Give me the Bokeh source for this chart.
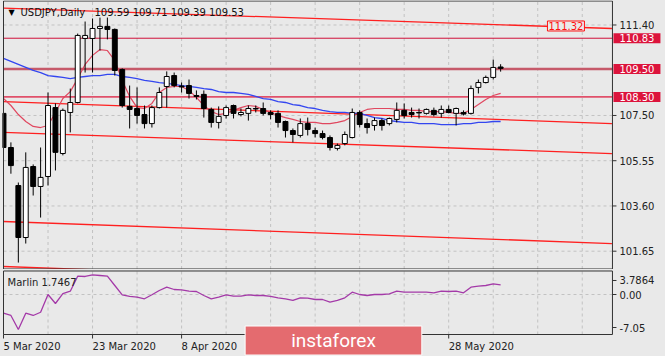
from bokeh.plotting import figure
from bokeh.layouts import column
from bokeh.models import Range1d, Label, ColumnDataSource
from bokeh.core.properties import value
from bokeh.embed import file_html
from bokeh.resources import INLINE

# ---------------- data ----------------
bar_open = [107.59, 106.12, 104.48, 102.24, 105.30, 104.44, 104.87, 107.84, 105.86, 107.63,
            108.06, 110.82, 110.82, 111.25, 111.34, 111.21, 109.48, 107.89, 107.80, 107.54,
            107.15, 107.84, 108.75, 109.22, 108.77, 108.79, 108.36, 108.41, 107.76, 107.20,
            107.50, 107.93, 107.54, 107.59, 107.80, 107.80, 107.63, 107.59, 107.24, 106.85,
            106.64, 107.15, 106.85, 106.72, 106.55, 106.08, 106.29, 106.55, 107.63, 107.15,
            107.07, 107.28, 107.15, 107.33, 107.72, 107.63, 107.63, 107.59, 107.72, 107.59,
            107.76, 107.59, 107.63, 107.59, 108.71, 108.92, 109.14, 109.59]
bar_close = [106.12, 105.34, 102.24, 105.26, 104.44, 104.83, 107.93, 105.91, 107.72, 108.06,
             110.95, 110.95, 111.25, 111.34, 111.21, 109.44, 107.93, 107.76, 107.50, 107.15,
             107.84, 108.49, 109.18, 108.79, 108.73, 108.45, 108.32, 107.80, 107.20, 107.46,
             107.84, 107.59, 107.63, 107.80, 107.78, 107.59, 107.54, 107.20, 106.85, 106.68,
             107.15, 106.90, 106.72, 106.55, 106.12, 106.21, 106.68, 107.63, 107.11, 106.98,
             107.28, 107.07, 107.37, 107.72, 107.50, 107.54, 107.61, 107.76, 107.54, 107.76,
             107.63, 107.80, 107.56, 108.66, 108.92, 109.14, 109.57, 109.53]
bar_high = [107.93, 106.34, 104.61, 105.91, 105.39, 106.12, 108.49, 108.02, 107.80, 108.66,
            111.03, 111.55, 111.68, 111.72, 111.72, 111.25, 109.53, 108.79, 108.71, 107.93,
            107.93, 108.71, 109.40, 109.35, 108.92, 109.05, 108.58, 108.58, 107.84, 107.89,
            107.93, 107.97, 107.80, 107.93, 107.93, 108.06, 107.72, 107.72, 107.28, 106.94,
            107.37, 107.41, 106.98, 106.85, 106.64, 106.29, 106.81, 107.80, 107.72, 107.37,
            107.41, 107.37, 107.41, 108.06, 108.02, 107.84, 107.80, 107.80, 107.84, 107.93,
            107.93, 107.84, 107.72, 108.79, 109.05, 109.22, 109.91, 109.71]
bar_low = [105.90, 104.99, 101.16, 101.98, 104.05, 103.10, 104.48, 105.13, 105.78, 106.77,
           108.02, 109.35, 109.35, 110.30, 110.78, 109.22, 107.84, 106.94, 107.15, 106.94,
           106.98, 107.80, 107.84, 108.71, 108.49, 108.23, 108.19, 107.41, 106.98, 106.94,
           107.37, 107.37, 107.46, 107.28, 107.63, 107.50, 107.33, 106.98, 106.55, 106.34,
           106.55, 106.64, 106.55, 106.47, 105.99, 105.99, 106.21, 106.51, 106.98, 106.72,
           106.85, 106.85, 107.07, 107.20, 107.37, 107.41, 107.37, 107.54, 107.46, 107.41,
           107.59, 107.07, 107.50, 107.54, 108.45, 108.88, 109.05, 109.39]

ma_fast = [108.23, 107.93, 107.54, 107.24, 107.03, 106.98, 107.07, 107.63, 108.23, 108.53,
           109.09, 109.70, 110.09, 110.34, 110.30, 109.87, 109.01, 108.32, 107.84, 107.80,
           108.02, 108.49, 108.71, 108.75, 108.75, 108.58, 108.28, 107.93, 107.67, 107.54,
           107.59, 107.72, 107.84, 107.93, 107.89, 107.76, 107.63, 107.50, 107.41, 107.33,
           107.24, 107.20, 107.20, 107.15, 107.15, 107.20, 107.28, 107.46, 107.63, 107.76,
           107.80, 107.80, 107.80, 107.76, 107.76, 107.72, 107.72, 107.67, 107.67, 107.67,
           107.63, 107.59, 107.59, 107.76, 107.97, 108.19, 108.36, 108.45]
ma_slow = [109.96, 109.83, 109.70, 109.57, 109.44, 109.35, 109.22, 109.18, 109.14, 109.09,
           109.14, 109.18, 109.22, 109.22, 109.27, 109.27, 109.18, 109.14, 109.09, 109.01,
           108.97, 108.92, 108.88, 108.84, 108.79, 108.75, 108.71, 108.66, 108.62, 108.53,
           108.49, 108.49, 108.45, 108.41, 108.32, 108.23, 108.19, 108.10, 108.06, 107.97,
           107.93, 107.84, 107.80, 107.72, 107.67, 107.63, 107.63, 107.59, 107.59, 107.50,
           107.41, 107.37, 107.28, 107.24, 107.20, 107.20, 107.15, 107.15, 107.15, 107.11,
           107.11, 107.11, 107.15, 107.15, 107.20, 107.20, 107.24, 107.24]
marlin = [-3.22, -3.61, -6.02, -3.22, -3.61, -3.05, 0.00, -1.55, 0.17, 0.57,
          3.15, 3.10, 3.39, 3.27, 3.15, 1.55, -0.05, -0.34, -0.46, -0.74,
          -0.05, 0.69, 1.26, 0.86, 0.81, 0.57, 0.52, -0.17, -0.74, -0.46,
          -0.05, -0.29, -0.29, -0.05, -0.17, -0.17, -0.34, -0.57, -0.74, -1.03,
          -0.57, -0.64, -0.86, -0.86, -1.33, -1.03, -0.57, 0.40, 0.00, -0.17,
          0.00, 0.00, 0.12, 0.57, 0.40, 0.40, 0.40, 0.40, 0.29, 0.57,
          0.52, 0.57, 0.29, 1.26, 1.43, 1.55, 1.84, 1.67]

channel_x = [0, 82]
channel_a = [112.13, 111.25]
channel_b = [108.10, 107.15]
channel_c = [106.77, 105.86]
channel_d = [102.93, 101.98]
channel_e = [100.99, 100.04]

level_prices = [110.83, 109.50, 108.30]
level_labels = ["110.83", "109.50", "108.30"]
level_colors = ["#d0103a", "#c65a6a", "#e0506a"]
level_widths = [1, 2.5, 1.8]

price_ticks = [111.40, 107.50, 105.55, 103.60, 101.65]
price_tick_labels = ["111.40", "107.50", "105.55", "103.60", "101.65"]
date_ticks = [0, 12, 24, 60]
date_labels = ["5 Mar 2020", "23 Mar 2020", "8 Apr 2020", "28 May 2020"]
grid_bars = [6, 12, 18, 24, 30, 36, 42, 48, 54, 60, 66, 72, 78]
marlin_ticks = [2.41, 0.0, -5.68]
marlin_tick_labels = ["3.7864", "0.00", "-7.05"]

title_name = "USDJPY,Daily"
title_ohlc = "109.59 109.71 109.39 109.53"
marlin_text = "Marlin 1.7467"
trend_label = "111.32"

# ---------------- geometry / style ----------------
BG = "#e9e9e9"
FONT = "DejaVu Sans"
AXC = "#222222"
BORDER = "#333333"
GRID = "#c2c2c2"
PXB = 1 / 7.42            # bars per pixel
X0 = -PXB                 # frame starts one pixel left of the first bar
CH_END = 82.07            # right edge of the chart area (bars)
X1 = X0 + 663 * PXB       # right edge of the canvas

# main panel price scale (23.2 px per yen)
P_TOP, P_BOT = 112.456, 100.861
B_TOP, B_BOT = 112.434, 100.883
# lower panel scale (5.81 px per unit)
M_TOP, M_BOT = 4.303, -10.671
MB_TOP, MB_BOT = 4.045, -6.885

idx = list(range(len(bar_open)))
up = [c >= o for o, c in zip(bar_open, bar_close)]
src = ColumnDataSource(dict(
    x=idx,
    top=[max(o, c) for o, c in zip(bar_open, bar_close)],
    bottom=[min(o, c) for o, c in zip(bar_open, bar_close)],
    high=bar_high, low=bar_low,
    fill=["white" if u else "black" for u in up],
))


def base_fig(h, yr):
    f = figure(frame_width=663, frame_height=h, min_border_left=2, min_border_right=0,
               min_border_top=0, min_border_bottom=0,
               x_range=Range1d(X0, X1), y_range=Range1d(*yr),
               x_axis_location=None, y_axis_location=None,
               toolbar_location=None, output_backend="svg",
               background_fill_color=BG, border_fill_color=BG)
    f.outline_line_color = None
    f.grid.visible = False
    return f


def txt(f, x, y, t, align="left", size="10px", color=AXC, font=FONT):
    f.text(x=x, y=y, text=t, text_align=align, text_baseline="middle",
           text_font=value(font), text_font_size=size, text_color=color)


# ================= main panel =================
p1 = base_fig(269, (P_BOT, P_TOP))

# grid
p1.segment(x0=0, x1=CH_END, y0=price_ticks, y1=price_ticks,
           line_color=GRID, line_dash="3 3", line_width=1)
p1.segment(x0=grid_bars, x1=grid_bars, y0=B_BOT, y1=B_TOP,
           line_color=GRID, line_dash="3 3", line_width=1)

# horizontal levels
for lv, c, w in zip(level_prices, level_colors, level_widths):
    p1.segment(x0=0, x1=CH_END, y0=lv, y1=lv, line_color=c, line_width=w)

# channel lines
for ys in (channel_a, channel_b, channel_c, channel_d, channel_e):
    p1.line(channel_x, ys, line_color="#ff2020", line_width=1.3)

# moving averages
p1.line(idx, ma_slow, line_color="#3346f0", line_width=1.3)
p1.line(idx, ma_fast, line_color="#e0475f", line_width=1.2)

# candles
p1.segment(x0="x", y0="low", x1="x", y1="high", source=src, line_color="black", line_width=1)
p1.vbar(x="x", top="top", bottom="bottom", width=0.66, source=src,
        fill_color="fill", line_color="black", line_width=1)

# frame
p1.quad(left=0, right=CH_END, bottom=B_BOT, top=B_TOP,
        fill_color=None, line_color=BORDER, line_width=1)

# price scale
p1.segment(x0=CH_END, x1=CH_END + 4 * PXB, y0=price_ticks, y1=price_ticks,
           line_color=BORDER, line_width=1)
txt(p1, [CH_END + 7 * PXB] * len(price_ticks), price_ticks, price_tick_labels)

for pr, t in zip(level_prices, level_labels):
    p1.add_layout(Label(x=CH_END + PXB, y=pr, text=t, text_align="left", text_baseline="middle",
                        text_font=FONT, text_font_size="10px", text_color="white",
                        background_fill_color="#dc143c", padding=(6, 6, 1, 1)))

p1.add_layout(Label(x=75.8, y=111.357, text=trend_label, text_align="center", text_baseline="middle",
                    text_font=FONT, text_font_size="10px", text_color="#ff1010",
                    background_fill_color=BG, border_line_color="#ff1010", padding=(1, 1, 1, 1)))

# title
p1.add_layout(Label(x=1.08, y=111.94, text="\u25bc", text_align="center", text_baseline="middle",
                    text_font=FONT, text_font_size="8px", text_color="black"))
txt(p1, [2.29], [111.92], [title_name], color="#111111")
txt(p1, [12.26], [111.92], [title_ohlc], color="#111111")

# ================= lower panel =================
p2 = base_fig(87, (M_BOT, M_TOP))

p2.segment(x0=0, x1=CH_END, y0=0, y1=0, line_color=GRID, line_dash="3 3", line_width=1)
p2.segment(x0=grid_bars, x1=grid_bars, y0=MB_BOT, y1=MB_TOP,
           line_color=GRID, line_dash="3 3", line_width=1)

p2.line(idx, marlin, line_color="#a43aa8", line_width=1.3)

p2.quad(left=0, right=CH_END, bottom=MB_BOT, top=MB_TOP,
        fill_color=None, line_color=BORDER, line_width=1)

# right scale
p2.segment(x0=CH_END, x1=CH_END + 4 * PXB, y0=marlin_ticks, y1=marlin_ticks,
           line_color=BORDER, line_width=1)
txt(p2, [CH_END + 7 * PXB] * len(marlin_ticks), marlin_ticks, marlin_tick_labels)

# time scale
p2.segment(x0=date_ticks, x1=date_ticks, y0=MB_BOT, y1=MB_BOT - 4 / 5.81,
           line_color=BORDER, line_width=1)
txt(p2, date_ticks, [-8.95] * len(date_ticks), date_labels)

txt(p2, [0.55], [2.15], [marlin_text], color="#222222")

p2.add_layout(Label(x=44.47, y=-7.92, text="instaforex", text_align="center", text_baseline="middle",
                    text_font="Roboto", text_font_size="19px", text_color="white",
                    background_fill_color="#e46b6f", border_line_color="white",
                    padding=(46, 46, 3, 3)))

layout = column(p1, p2, spacing=0, styles={"background-color": BG})
open("out.html", "w").write(file_html(layout, INLINE))
